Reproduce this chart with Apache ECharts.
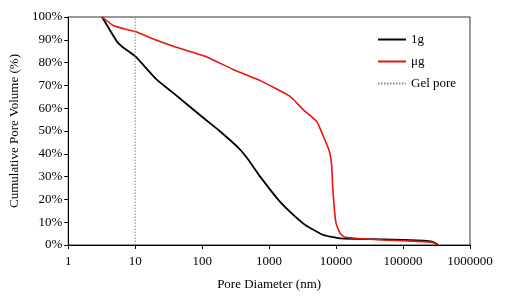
<!DOCTYPE html>
<html>
<head>
<meta charset="utf-8">
<script src="https://cdn.jsdelivr.net/npm/echarts@6/dist/echarts.min.js"></script>
<style>
  html, body { margin: 0; padding: 0; background: #fff; }
  #chart { width: 510px; height: 297px; }
</style>
</head>
<body>
<div id="chart"></div>
<script>
// pore diameter (nm) vs cumulative pore volume (%)
var lgX = [3.2, 5.3, 6.7, 10, 21, 37, 105, 186, 360, 490, 735, 1450, 2300, 3460, 6470, 11500, 51000, 200000, 270000, 338000];
var lgY = [100, 89.4, 86.5, 82.8, 72.5, 66.7, 55.7, 49.8, 42.2, 37.4, 30, 19, 13.2, 8.8, 4.4, 2.9, 2.5, 1.9, 1.5, 0];

var ugX = [3.2, 4.7, 7.5, 10, 21, 37, 117, 294, 735, 2050, 3250, 5150, 6470, 7960, 8610, 8900, 9350, 10000, 11500, 13600, 51000, 200000, 270000, 338000];
var ugY = [100, 96.3, 94.5, 93.6, 89.8, 87.2, 82.5, 76.9, 72.1, 65.2, 59.3, 54.2, 47.6, 41, 34.4, 25.6, 16.8, 9.5, 5.1, 3.4, 2.2, 1.5, 1.2, 0];

var gelX = [10, 10];
var gelY = [0, 100];

var seriesNames = ['1g', 'μg', 'Gel pore'];

function pairs(xs, ys) {
    return xs.map(function (x, i) { return [x, ys[i]]; });
}

var font = 'Liberation Serif';

var chart = echarts.init(document.getElementById('chart'));
chart.setOption({
    backgroundColor: '#fff',
    animation: false,
    textStyle: { fontFamily: font },
    grid: {
        left: 68,
        right: 40,
        top: 17,
        bottom: 52,
        show: true,
        borderColor: '#333',
        borderWidth: 1
    },
    legend: {
        orient: 'vertical',
        left: 372,
        top: 28,
        itemWidth: 28,
        itemHeight: 14,
        itemGap: 9,
        data: seriesNames,
        itemStyle: { opacity: 0 },
        textStyle: { fontFamily: font, fontSize: 13, color: '#000' }
    },
    xAxis: {
        type: 'log',
        logBase: 10,
        min: 1,
        max: 1000000,
        name: 'Pore Diameter (nm)',
        nameLocation: 'middle',
        nameGap: 33,
        nameTextStyle: { fontFamily: font, fontSize: 13, color: '#000' },
        axisLine: { lineStyle: { color: '#000', width: 1 } },
        axisTick: { show: true, inside: false, length: 4, lineStyle: { color: '#000' } },
        minorTick: { show: false },
        splitLine: { show: false },
        axisLabel: {
            fontFamily: font,
            fontSize: 13,
            color: '#000',
            margin: 10,
            formatter: function (v) { return String(Math.round(v)); }
        }
    },
    yAxis: {
        type: 'value',
        min: 0,
        max: 100,
        interval: 10,
        name: 'Cumulative Pore Volume (%)',
        nameLocation: 'middle',
        nameGap: 47,
        nameTextStyle: { fontFamily: font, fontSize: 13, color: '#000' },
        axisLine: { show: true, lineStyle: { color: '#000', width: 1 } },
        axisTick: { show: true, length: 4, lineStyle: { color: '#000' } },
        splitLine: { show: false },
        axisLabel: {
            fontFamily: font,
            fontSize: 13,
            color: '#000',
            margin: 6,
            formatter: '{value}%'
        }
    },
    series: [
        {
            name: seriesNames[0],
            type: 'line',
            symbol: 'none',
            smooth: 0.15,
            data: pairs(lgX, lgY),
            lineStyle: { color: '#000', width: 1.8 },
            itemStyle: { color: '#000' }
        },
        {
            name: seriesNames[1],
            type: 'line',
            symbol: 'none',
            smooth: 0.15,
            data: pairs(ugX, ugY),
            lineStyle: { color: '#e8150d', width: 1.6 },
            itemStyle: { color: '#e8150d' }
        },
        {
            name: seriesNames[2],
            type: 'line',
            symbol: 'none',
            data: pairs(gelX, gelY),
            lineStyle: { color: '#888', width: 1, type: [1.5, 1.5] },
            itemStyle: { color: '#888' }
        }
    ]
});
</script>
</body>
</html>
